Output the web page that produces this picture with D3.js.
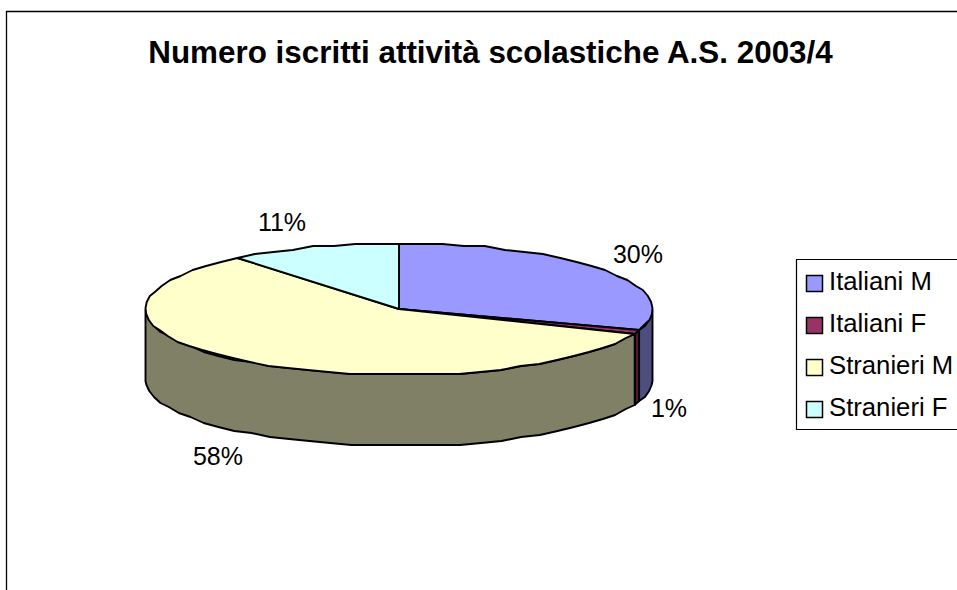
<!DOCTYPE html>
<html>
<head>
<meta charset="utf-8">
<script src="https://cdn.jsdelivr.net/npm/d3@7"></script>
<style>
html,body{margin:0;padding:0;background:#fff;overflow:hidden}
svg{display:block}
text{font-family:"Liberation Sans",Arial,sans-serif;fill:#000}
</style>
</head>
<body>
<svg id="c" width="957" height="590"></svg>
<script>
const categories = ["Italiani M","Italiani F","Stranieri M","Stranieri F"];
const values = [30.2,0.8,58,11];
const colors = ["#9999FF","#993366","#FFFFCC","#CCFFFF"];
const sideColors = ["#4D4D80","#4D1A33","#808066","#668080"];
const chartTitle = "Numero iscritti attività scolastiche A.S. 2003/4";

const W=957,H=590,cx=399,cy=309,rx=253.5,ry=66,depth=71;
const labelCentres=[[638,254],[669,408],[218,456],[282,222]];
const svg=d3.select("#c");

// frame: open at right and bottom like the cropped source
svg.append("path").attr("d",d3.line()([[6.5,H],[6.5,11.5],[W,11.5]]))
  .attr("fill","none").attr("stroke","#000").attr("stroke-width",1.3);

svg.append("text").attr("x",490.5).attr("y",63).attr("text-anchor","middle")
  .attr("font-size",31.4).attr("font-weight","bold").text(chartTitle);

const arcs=d3.pie().sort(null).value(d=>d)(values);
const xS=d3.scaleLinear().domain([-1,1]).range([cx-rx,cx+rx]);
const yS=d3.scaleLinear().domain([-1,1]).range([cy+ry,cy-ry]);
// coarse rim grid: the source's outline is a stepped, low-resolution polygon
const snap=v=>Math.round(v/2)*2;
const px=a=>xS(Math.sin(a)), py=a=>yS(Math.cos(a));
const STEP=Math.PI/36;
function samples(a0,a1){
  const n=Math.max(1,Math.ceil((a1-a0)/STEP)),o=[];
  for(let i=0;i<=n;i++)o.push(a0+(a1-a0)*i/n);
  return o;
}
const rim=(s,dy=0)=>s.map(a=>[px(a),snap(py(a))+dy]);
const line=d3.line();
const g=svg.append("g").attr("stroke","#000").attr("stroke-width",1.9).attr("stroke-linejoin","round");

// side walls: the near half of the rim only
arcs.forEach((d,i)=>{
  const a0=Math.max(d.startAngle,Math.PI/2),a1=Math.min(d.endAngle,3*Math.PI/2);
  if(a1<=a0)return;
  const s=samples(a0,a1);
  g.append("path").attr("d",line(rim(s).concat(rim(s.slice().reverse(),depth)))+"Z").attr("fill",sideColors[i]);
});
// top faces
arcs.forEach((d,i)=>{
  const pts=[[cx,cy]].concat(rim(samples(d.startAngle,d.endAngle)));
  g.append("path").attr("d",line(pts)+"Z").attr("fill",colors[i]);
});

// percentage labels
const total=d3.sum(values),fmt=d3.format(".0%");
arcs.forEach((d,i)=>{
  svg.append("text").attr("x",labelCentres[i][0]).attr("y",labelCentres[i][1]+9)
    .attr("text-anchor","middle").attr("font-size",25).text(fmt(d.value/total));
});

// legend
svg.append("path").attr("d",line([[W,259.5],[796.5,259.5],[796.5,429.5],[W,429.5]]))
  .attr("fill","#fff").attr("stroke","#000").attr("stroke-width",1.2);
const ly=d3.scalePoint().domain(categories).range([283.5,409.5]);
categories.forEach((c,i)=>{
  svg.append("rect").attr("x",806.5).attr("y",ly(c)-8).attr("width",16).attr("height",16)
    .attr("fill",colors[i]).attr("stroke","#000").attr("stroke-width",1.5);
  svg.append("text").attr("x",829).attr("y",ly(c)+6).attr("font-size",25.7).text(c);
});
</script>
</body>
</html>
